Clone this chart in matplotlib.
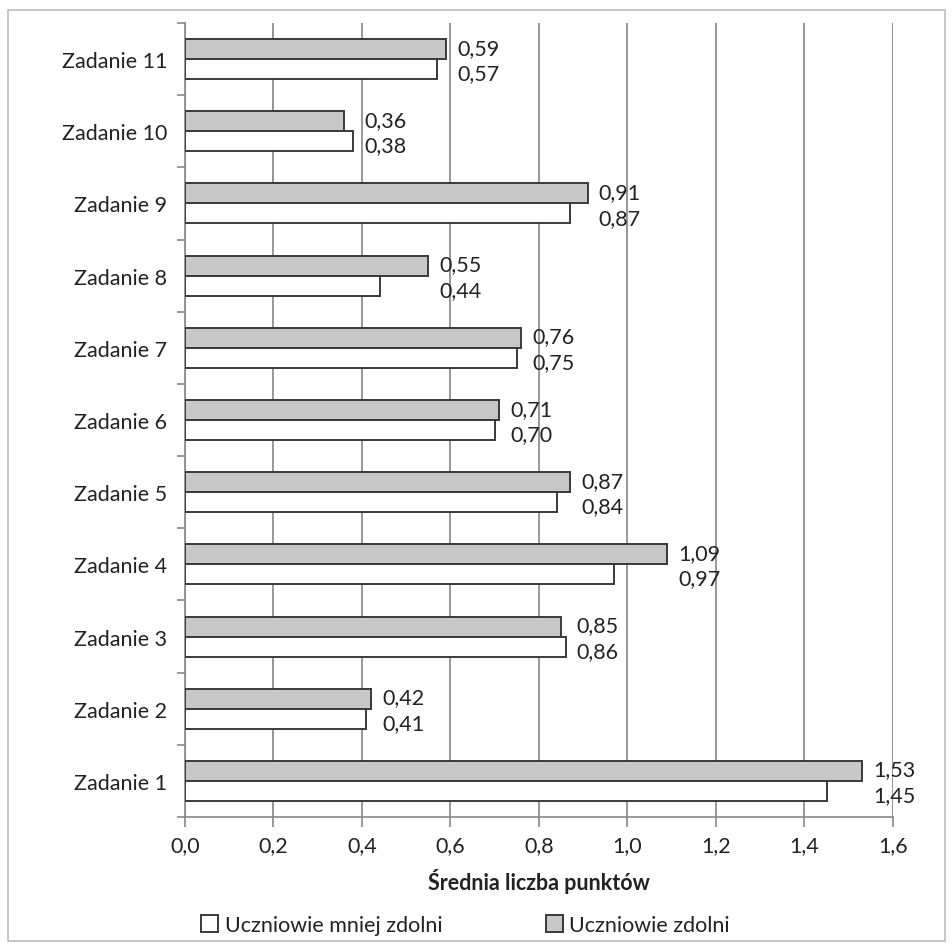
import matplotlib.pyplot as plt
from matplotlib.patches import Rectangle
from matplotlib.ticker import FixedLocator, FuncFormatter

plt.rcParams['font.family'] = ['Lato', 'DejaVu Sans']

zadania = ['Zadanie 1', 'Zadanie 2', 'Zadanie 3', 'Zadanie 4', 'Zadanie 5', 'Zadanie 6',
           'Zadanie 7', 'Zadanie 8', 'Zadanie 9', 'Zadanie 10', 'Zadanie 11']
zdolni = [1.53, 0.42, 0.85, 1.09, 0.87, 0.71, 0.76, 0.55, 0.91, 0.36, 0.59]
mniej_zdolni = [1.45, 0.41, 0.86, 0.97, 0.84, 0.70, 0.75, 0.44, 0.87, 0.38, 0.57]
x_ticks = [0.0, 0.2, 0.4, 0.6, 0.8, 1.0, 1.2, 1.4, 1.6]

FS = 15.5

fig = plt.figure(figsize=(9.52, 9.45), dpi=100)
ax = fig.add_axes([0.1943, 0.1344, 0.938 - 0.1943, 0.9746 - 0.1344])

# ramka wokol calego wykresu
fig.patches.append(Rectangle((0.008, 0.003), 0.985, 0.985, transform=fig.transFigure,
                             fill=False, edgecolor='#bdbdbd', linewidth=1.2))

h = 0.277
pos = list(range(len(zadania)))
ax.barh([p + h / 2 for p in pos], zdolni, height=h, color='#c8c8c8',
        edgecolor='#3a3a3a', linewidth=1.4, label='Uczniowie zdolni', zorder=3)
ax.barh([p - h / 2 for p in pos], mniej_zdolni, height=h, color='white',
        edgecolor='#3a3a3a', linewidth=1.4, label='Uczniowie mniej zdolni', zorder=3)

for p, a, b in zip(pos, zdolni, mniej_zdolni):
    xm = max(a, b)
    ax.annotate(f'{a:.2f}'.replace('.', ','), (xm, p + h / 2), xytext=(8, 1),
                textcoords='offset points', va='center', ha='left', fontsize=FS, color='#222222')
    ax.annotate(f'{b:.2f}'.replace('.', ','), (xm, p - h / 2), xytext=(8, -3),
                textcoords='offset points', va='center', ha='left', fontsize=FS, color='#222222')

ax.set_xlim(0, 1.6)
ax.set_ylim(-0.5, len(zadania) - 0.5)
ax.set_xticks(x_ticks)
ax.xaxis.set_major_formatter(FuncFormatter(lambda v, _: f'{v:.1f}'.replace('.', ',')))
ax.set_yticks(pos)
ax.set_yticklabels(zadania)
ax.yaxis.set_minor_locator(FixedLocator([p - 0.5 for p in pos] + [len(zadania) - 0.5]))
ax.tick_params(axis='y', which='major', length=0, pad=13, labelsize=FS, labelcolor='#222222')
ax.tick_params(axis='y', which='minor', length=6, color='#888888', width=1.2)
ax.tick_params(axis='x', which='major', length=7, color='#888888', width=1.2,
               labelsize=FS, labelcolor='#222222', pad=6)
ax.grid(axis='x', color='#858585', linewidth=1.2, zorder=0)

for s in ['top', 'right']:
    ax.spines[s].set_visible(False)
for s in ['left', 'bottom']:
    ax.spines[s].set_color('#888888')
    ax.spines[s].set_linewidth(1.2)

ax.set_xlabel('Średnia liczba punktów', fontsize=FS, fontweight='bold', labelpad=9, color='#222222')

handles, labels = ax.get_legend_handles_labels()
leg = fig.legend(handles[::-1], labels[::-1], loc='center', bbox_to_anchor=(0.489, 0.02),
                 ncol=2, frameon=False, fontsize=FS, columnspacing=4.8, handlelength=0.8,
                 handleheight=0.8, handletextpad=0.3)
for t in leg.get_texts():
    t.set_color('#222222')

fig.savefig('out.png', dpi=100)
